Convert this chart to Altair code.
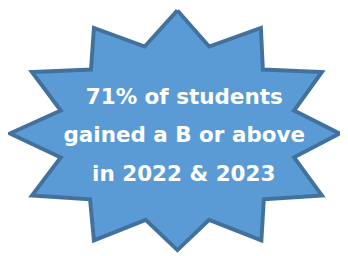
import altair as alt
import pandas as pd

# Star outline vertices (pixel-space data units), alternating tip / inner corner
star_x = [181.5, 214, 267, 269, 329.5, 301, 347.5, 301, 329.5, 270, 267.5, 214,
          181.5, 149, 96, 92, 32.5, 62, 10, 62, 32.5, 93, 96, 148, 181.5]
star_y = [7.5, 44.5, 25.5, 68, 70.5, 110, 133.5, 158, 197, 201, 243, 222,
          253, 222, 243, 201, 197, 158, 133.5, 110, 70.5, 68, 25.5, 44.5, 7.5]

lines = ["71% of students", "gained a B or above", "in 2022 & 2023"]
line_x = [188.5, 188.5, 188]
line_y = [103, 142.5, 182]

OFF = 8
star = pd.DataFrame({
    "x": [v - OFF for v in star_x],
    "y": [v - OFF for v in star_y],
    "i": list(range(len(star_x))),
})
txt = pd.DataFrame({
    "t": lines,
    "x": [v - OFF for v in line_x],
    "y": [v - OFF for v in line_y],
})

xs = alt.Scale(domain=[0, 340], nice=False, zero=False)
ys = alt.Scale(domain=[0, 248], nice=False, zero=False, reverse=True)

shape = alt.Chart(star).mark_line(
    fill="#5B9BD5", stroke="#41719C", strokeWidth=4, strokeJoin="miter", clip=False
).encode(
    x=alt.X("x:Q", scale=xs, axis=None),
    y=alt.Y("y:Q", scale=ys, axis=None),
    order="i:Q",
)

text = alt.Chart(txt).mark_text(
    color="white", font="DejaVu Sans", fontWeight="bold", fontSize=22,
    align="center", baseline="alphabetic", clip=False
).encode(
    x=alt.X("x:Q", scale=xs, axis=None),
    y=alt.Y("y:Q", scale=ys, axis=None),
    text="t:N",
)

chart = alt.layer(shape, text).properties(
    width=340, height=248, padding=0, autosize=alt.AutoSizeParams(type="none")
).configure_view(stroke=None)

chart.save("out.html", embed_options={"renderer": "svg", "actions": False})
